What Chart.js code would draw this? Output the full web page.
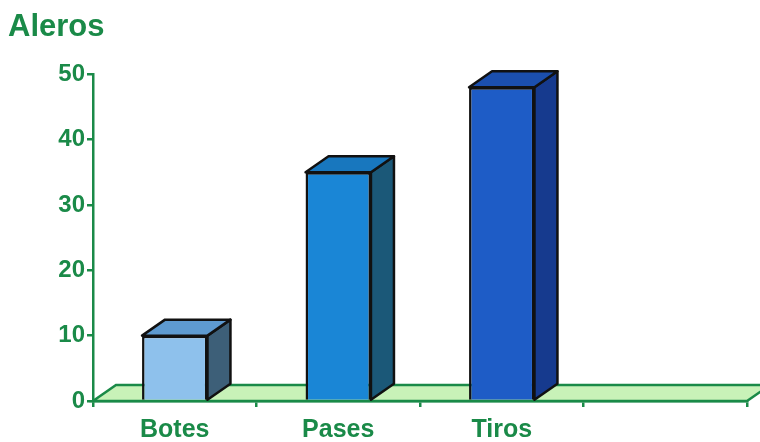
<!DOCTYPE html>
<html>
<head>
<meta charset="utf-8">
<script src="https://cdn.jsdelivr.net/npm/chart.js@4/dist/chart.umd.min.js"></script>
<style>
  html, body { margin: 0; padding: 0; background: #fff; }
  #wrap { width: 760px; height: 442px; }
</style>
</head>
<body>
<div id="wrap"><canvas id="chart"></canvas></div>
<script>
  /* ── Data ─────────────────────────────────────────────── */
  const categories = ['Botes', 'Pases', 'Tiros', ''];
  const values     = [10, 35, 48, null];
  const yTicks     = [0, 10, 20, 30, 40, 50];

  /* ── Styling ──────────────────────────────────────────── */
  const GREEN   = '#1A8A48';
  const FRONT   = ['#8EC1EC', '#1A86D6', '#1E5CC6'];
  const TOP     = ['#5E9AD0', '#1877BE', '#1B4FAE'];
  const SIDE    = ['#3D5F78', '#1B5878', '#163A8E'];
  const DX = 23, DY = -16;
  const FONT = '"Liberation Sans", Arial, sans-serif';

  // light green floor under the bars
  const floorPlugin = {
    id: 'floor',
    beforeDatasetsDraw(chart) {
      const { ctx, chartArea: a } = chart;
      ctx.save();
      ctx.beginPath();
      ctx.moveTo(a.left, a.bottom);
      ctx.lineTo(a.right, a.bottom);
      ctx.lineTo(a.right + DX, a.bottom + DY);
      ctx.lineTo(a.left + DX, a.bottom + DY);
      ctx.closePath();
      ctx.fillStyle = '#C8F2B8';
      ctx.fill();
      ctx.lineWidth = 2.5;
      ctx.strokeStyle = GREEN;
      ctx.stroke();
      ctx.restore();
    }
  };

  // top and side faces to make the bars look like blocks
  const blockPlugin = {
    id: 'block',
    afterDatasetsDraw(chart) {
      const { ctx } = chart;
      const meta = chart.getDatasetMeta(0);
      ctx.save();
      ctx.lineWidth = 2.5;
      ctx.strokeStyle = '#111';
      ctx.lineJoin = 'round';
      meta.data.forEach((bar, i) => {
        if (values[i] == null) return;
        const { x, y, base, width } = bar.getProps(['x', 'y', 'base', 'width'], true);
        const l = x - width / 2, r = x + width / 2;
        // side
        ctx.beginPath();
        ctx.moveTo(r, y);
        ctx.lineTo(r + DX, y + DY);
        ctx.lineTo(r + DX, base + DY);
        ctx.lineTo(r, base);
        ctx.closePath();
        ctx.fillStyle = SIDE[i];
        ctx.fill();
        ctx.stroke();
        // top
        ctx.beginPath();
        ctx.moveTo(l, y);
        ctx.lineTo(r, y);
        ctx.lineTo(r + DX, y + DY);
        ctx.lineTo(l + DX, y + DY);
        ctx.closePath();
        ctx.fillStyle = TOP[i];
        ctx.fill();
        ctx.stroke();
      });
      ctx.restore();
    }
  };

  new Chart(document.getElementById('chart'), {
    type: 'bar',
    data: {
      labels: categories,
      datasets: [{
        data: values,
        backgroundColor: FRONT,
        borderColor: '#111',
        borderWidth: 2.5,
        barPercentage: 0.4,
        categoryPercentage: 1
      }]
    },
    options: {
      responsive: true,
      maintainAspectRatio: false,
      animation: false,
      layout: { padding: { left: 8, right: 13, top: 0, bottom: 0 } },
      plugins: {
        legend: { display: false },
        tooltip: { enabled: false },
        title: {
          display: true,
          text: 'Aleros',
          align: 'start',
          color: GREEN,
          font: { family: FONT, size: 31, weight: 'bold' },
          padding: { top: 9, bottom: 28 }
        }
      },
      scales: {
        y: {
          min: 0,
          max: 50,
          afterFit(s) { s.width = 85; },
          afterBuildTicks(s) { s.ticks = yTicks.map(v => ({ value: v })); },
          grid: { drawOnChartArea: false, color: GREEN, lineWidth: 2.5, tickLength: 6 },
          border: { color: GREEN, width: 2.5 },
          ticks: {
            color: GREEN,
            padding: 2,
            font: { family: FONT, size: 24, weight: 'bold' }
          }
        },
        x: {
          afterFit(s) { s.height = 41; },
          grid: { drawOnChartArea: false, color: GREEN, lineWidth: 2.5, tickLength: 6, offset: true },
          border: { color: GREEN, width: 2.5 },
          ticks: {
            color: GREEN,
            padding: 8,
            font: { family: FONT, size: 25, weight: 'bold' }
          }
        }
      }
    },
    plugins: [floorPlugin, blockPlugin]
  });
</script>
</body>
</html>
